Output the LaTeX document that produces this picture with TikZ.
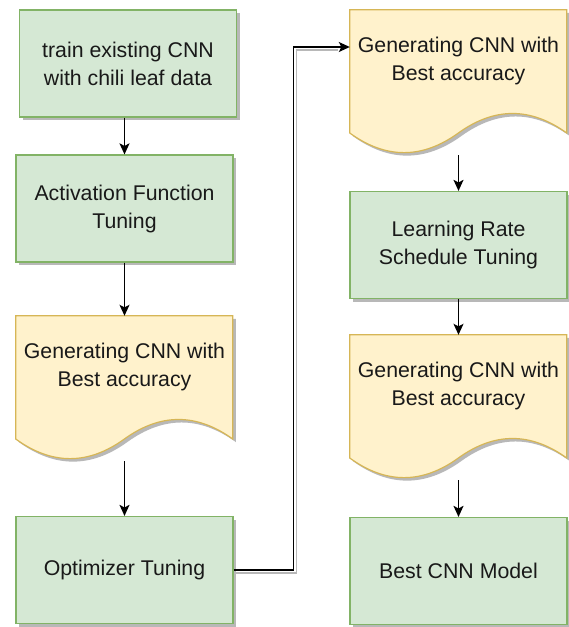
\documentclass[tikz,border=0pt]{standalone}
\usepackage{fontspec}
\setmainfont{Liberation Sans}
\usetikzlibrary{arrows.meta,calc,shadows}
\definecolor{gfill}{HTML}{D5E8D4}
\definecolor{gline}{HTML}{82B366}
\definecolor{yfill}{HTML}{FFF2CC}
\definecolor{yline}{HTML}{D6B656}
\definecolor{shad}{HTML}{B8B8B8}
\tikzset{
  lbl/.style={font=\fontsize{21.3}{28}\selectfont, align=center, text=black!90},
  procbox/.style={lbl, draw=gline, fill=gfill, line width=1.2pt, minimum width=217pt,
    minimum height=107pt, inner sep=0pt,
    drop shadow={shadow xshift=3pt, shadow yshift=-3pt, fill=shad, opacity=1}},
  docnode/.style={minimum width=217pt, minimum height=145pt, inner sep=0pt},
  doctext/.style={lbl, inner sep=0pt},
  arr/.style={-{Stealth[length=11pt,width=10pt,inset=2.5pt]}, line width=1.3pt, black},
  shadline/.style={shad, line width=1.6pt},
}
\newcommand\docshape[1]{%
  \begin{scope}[shift={(#1.north west)}]
    \fill[shad] (3,3) -- (220,3) -- (220,126.25) .. controls (183.83,100.15) and (147.67,100.15) .. (111.5,126.25)
      .. controls (75.33,152.35) and (39.17,152.35) .. (3,126.25) -- cycle;
    \draw[draw=yline, fill=yfill, line width=1.2pt] (0,0) -- (217,0) -- (217,123.25)
      .. controls (180.83,97.15) and (144.67,97.15) .. (108.5,123.25)
      .. controls (72.33,149.35) and (36.17,149.35) .. (0,123.25) -- cycle;
  \end{scope}}
\begin{document}
\begin{tikzpicture}[x=1pt,y=-1pt]
\fill[white] (0,0) rectangle (569,627);
\useasboundingbox (0,0) rectangle (569,627);
% left column
\node[procbox] (b1) at (128,63.5) {train existing CNN\\with chili leaf data};
\node[procbox] (b2) at (124.5,208.5) {Activation Function\\Tuning};
\node[docnode] (d1) at (124.5,388.5) {};
\docshape{d1}
\node[doctext] (d1t) at ([yshift=21.5pt]d1.center) {Generating CNN with\\Best accuracy};
\node[procbox] (b3) at (124.5,570) {Optimizer Tuning};
% right column
\node[docnode] (d2) at (458.5,82.5) {};
\docshape{d2}
\node[doctext] (d2t) at ([yshift=21.5pt]d2.center) {Generating CNN with\\Best accuracy};
\node[procbox] (b4) at (458.5,245) {Learning Rate\\Schedule Tuning};
\node[docnode] (d3) at (458.5,407.5) {};
\docshape{d3}
\node[doctext] (d3t) at ([yshift=21.5pt]d3.center) {Generating CNN with\\Best accuracy};
\node[procbox] (b5) at (458.5,571) {Best CNN Model};
% connectors
\draw[arr] (b1.south -| b2.north) -- (b2.north);
\draw[arr] (b2.south) -- (d1.north);
\draw[arr] (d1.south) -- (b3.north);
\draw[arr] (d2.south) -- (b4.north);
\draw[arr] (b4.south) -- (d3.north);
\draw[arr] (d3.south) -- (b5.north);
\coordinate (t2) at ([yshift=35.5pt]d2.west);
\draw[shadline] ([shift={(2,3)}]b3.east) -- ++(61,0) |- ([shift={(-12,3)}]t2);
\draw[arr] (b3.east) -- ++(60,0) |- (t2);
\end{tikzpicture}
\end{document}
